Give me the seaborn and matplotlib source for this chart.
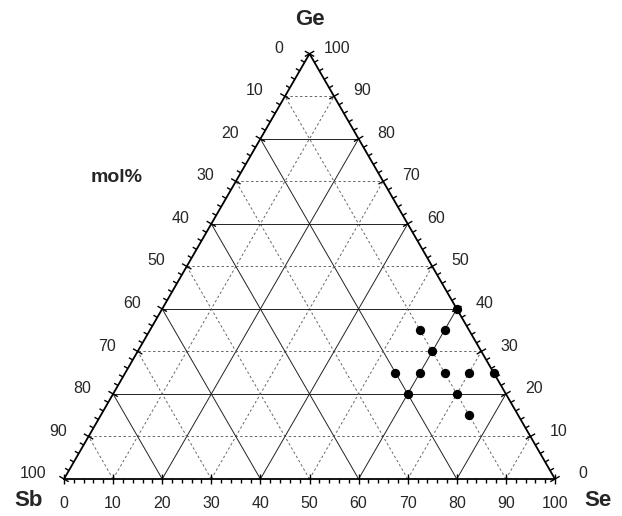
import numpy as np
import pandas as pd
import matplotlib
matplotlib.use("Agg")
import matplotlib.pyplot as plt
import seaborn as sns

# ---- data ----
se_vals = [60, 55, 60, 60, 55, 60, 65, 70, 75, 60, 70, 75]
ge_vals = [40, 35, 35, 30, 25, 25, 25, 25, 25, 20, 20, 15]
tick_vals = [0, 10, 20, 30, 40, 50, 60, 70, 80, 90, 100]
corner_labels = ["Sb", "Se", "Ge"]
unit_label = "mol%"

sns.set_theme(style="white")
plt.rcParams['font.family'] = ['Liberation Sans', 'DejaVu Sans']

H = np.sqrt(3) / 2


def tern(se, ge):
    se = np.asarray(se, float)
    ge = np.asarray(ge, float)
    return se + ge / 2.0, ge * H


df = pd.DataFrame({"Se": se_vals, "Ge": ge_vals})
df["Sb"] = 100 - df["Se"] - df["Ge"]
df["x"], df["y"] = tern(df["Se"], df["Ge"])

fig = plt.figure(figsize=(6.22, 5.16), dpi=100)
ax = fig.add_axes([0, 0, 1, 1])
scale = 4.91  # px per unit
x0 = -64 / scale
ax.set_xlim(x0, x0 + 622 / scale)
ax.set_ylim(-(516 - 479) / scale, -(516 - 479) / scale + 516 / scale)
ax.set_aspect('equal')
ax.axis('off')

# grid lines
for v in range(10, 100, 10):
    solid = (v % 20 == 0)
    kw = dict(color='#222222', lw=0.7, zorder=1) if solid else \
        dict(color='#666666', lw=0.7, ls=(0, (2.5, 2.5)), zorder=1)
    xa, ya = tern([0, 100 - v], [v, v])          # constant Ge
    ax.plot(xa, ya, **kw)
    xa, ya = tern([v, v], [0, 100 - v])          # constant Se
    ax.plot(xa, ya, **kw)
    xa, ya = tern([100 - v, 0], [0, 100 - v])    # constant Sb
    ax.plot(xa, ya, **kw)

# triangle
xt, yt = tern([0, 100, 0, 0], [0, 0, 100, 0])
ax.plot(xt, yt, color='black', lw=1.3, zorder=2)

# ticks
maj_len = 1.1
min_len = 0.9
n_bottom = np.array([0, -1.0])
n_right = np.array([np.cos(np.pi / 6), np.sin(np.pi / 6)])
n_left = np.array([-np.cos(np.pi / 6), np.sin(np.pi / 6)])
for v in range(0, 101, 2):
    major = (v % 10 == 0)
    for kind in ("bottom", "right", "left"):
        if kind == "bottom":
            px, py = tern(v, 0)
            n = n_bottom
        elif kind == "right":
            px, py = tern(100 - v, v)
            n = n_right
        else:
            px, py = tern(0, 100 - v)
            n = n_left
        a, b = (-maj_len, maj_len) if major else (0, min_len)
        ax.plot([px + a * n[0], px + b * n[0]], [py + a * n[1], py + b * n[1]],
                color='black', lw=1.0, zorder=2, solid_capstyle='butt')

# tick labels
fs = 11.5
for v in tick_vals:
    px, py = tern(v, 0)                     # bottom: Se
    ax.text(px, py - 5.0, str(v), ha='center', va='center', fontsize=fs)
    px, py = tern(100 - v, v)               # right: Ge
    ax.text(px + 5.7, py + 1.1, str(v), ha='center', va='center', fontsize=fs)
    px, py = tern(0, 100 - v)               # left: Sb
    ax.text(px - 6.2, py + 1.1, str(v), ha='center', va='center', fontsize=fs)

# corner labels
px, py = tern(0, 100)
ax.text(px, py + 6.9, corner_labels[2], ha='center', va='center', fontsize=16, fontweight='bold')
px, py = tern(0, 0)
ax.text(px - 7.3, py - 4.3, corner_labels[0], ha='center', va='center', fontsize=16, fontweight='bold')
px, py = tern(100, 0)
ax.text(px + 8.8, py - 4.3, corner_labels[1], ha='center', va='center', fontsize=16, fontweight='bold')
ax.text(10.7, 61.5, unit_label, ha='center', va='center', fontsize=14, fontweight='bold')

sns.scatterplot(data=df, x="x", y="y", ax=ax, color='black', s=45, edgecolor='black',
                linewidth=0, zorder=5, legend=False)
ax.set_xlabel('')
ax.set_ylabel('')
ax.axis('off')

fig.savefig("out.png", dpi=100)
